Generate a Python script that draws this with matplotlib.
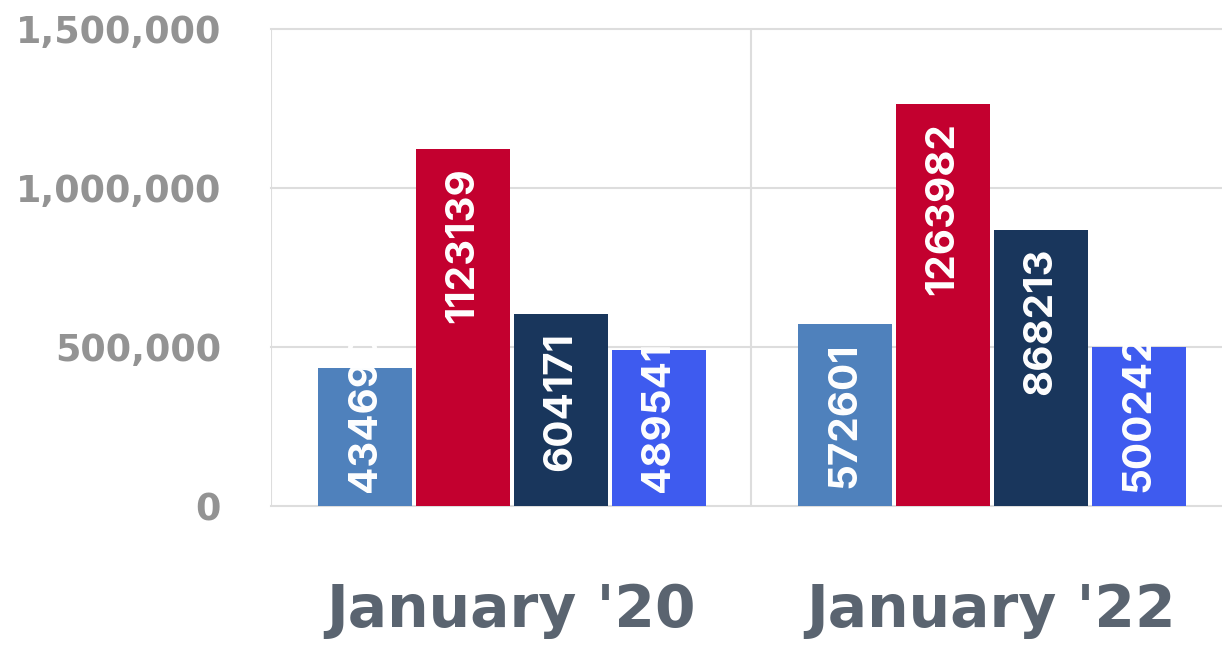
import matplotlib.pyplot as plt

categories = ["January '20", "January '22"]
series1 = [434690, 572601]
series2 = [1123139, 1263982]
series3 = [604171, 868213]
series4 = [489541, 500242]
y_ticks = [0, 500000, 1000000, 1500000]

colors = ["#4f81bc", "#c3002f", "#19365c", "#3e5bef"]
grid_col = "#dddddd"

W, H = 1222, 645
fig = plt.figure(figsize=(W / 100, H / 100), dpi=100)
ax = fig.add_axes([271 / W, (H - 506) / H, 960 / W, 477 / H])

series = [series1, series2, series3, series4]
step = 0.204
width = 0.196
bars = []
for i, vals in enumerate(series):
    xs = [c + (i - 1.5) * step + 0.002 for c in range(len(categories))]
    b = ax.bar(xs, vals, width=width, color=colors[i], zorder=3)
    bars.append(b)

ax.set_xlim(-0.5, 1.5)
ax.set_ylim(0, 1500000)
for s in ax.spines.values():
    s.set_visible(False)

for t in y_ticks:
    ax.axhline(t, color=grid_col, lw=1.5, zorder=1, clip_on=False)
ax.axvline(-0.5, color=grid_col, lw=1.5, zorder=1)
ax.axvline(0.5, color=grid_col, lw=1.5, zorder=1)

ax.set_yticks(y_ticks)
ax.set_yticklabels([f"{t:,}" for t in y_ticks], fontsize=26.3, fontweight="bold",
                   color="#939393", family="DejaVu Sans")
ax.tick_params(axis="y", length=0, pad=36)

ax.set_xticks(range(len(categories)))
ax.set_xticklabels(categories, fontsize=42, fontweight="bold", color="#5a6470",
                   family="DejaVu Sans")
ax.tick_params(axis="x", length=0, pad=55)

# value labels: placed just inside the bar top, pushed up from the baseline if too long
fig.canvas.draw()
renderer = fig.canvas.get_renderer()
base_px = ax.transData.transform((0, 0))[1]
lab_kw = dict(rotation=90, color="white", fontsize=29, fontweight="bold",
              family=["Inter", "Roboto", "DejaVu Sans"], zorder=4, ha="center",
              textcoords="offset points")
for b in bars:
    for rect in b:
        x = rect.get_x() + rect.get_width() / 2
        v = rect.get_height()
        t = ax.annotate(f"{v}", xy=(x, v), xytext=(0, -18 * 0.72), va="top", **lab_kw)
        ext = t.get_window_extent(renderer)
        if ext.y0 < base_px + 14:
            t.remove()
            ax.annotate(f"{v}", xy=(x, 0), xytext=(0, 14 * 0.72), va="bottom", **lab_kw)

fig.savefig("out.png", dpi=100)
